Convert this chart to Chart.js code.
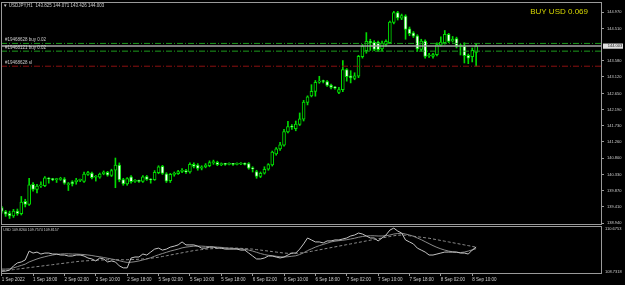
<!DOCTYPE html>
<html>
<head>
<meta charset="utf-8">
<script src="https://cdn.jsdelivr.net/npm/chart.js@4.4.0/dist/chart.umd.min.js"></script>
<style>
html, body { margin: 0; padding: 0; background: #000; }
#wrap { position: relative; width: 625px; height: 285px; overflow: hidden; background: #000; }
canvas { position: absolute; left: 0; }
#main { top: 0; }
#ind { top: 222px; }
</style>
</head>
<body>
<div id="wrap">
  <canvas id="main" width="625" height="230"></canvas>
  <canvas id="ind" width="625" height="63"></canvas>
</div>
<script>
// USDJPY H1, one entry per bar (1 Sep 10:00 .. 8 Sep 11:00)
const symbol = 'USDJPY,H1';
const openP = [
  139.38,139.27,139.22,139.14,139.28,139.21,139.56,139.47,140.05,139.90,
  140.00,140.01,140.21,140.19,140.18,140.19,140.20,140.04,140.12,140.12,
  140.16,140.13,140.33,140.37,140.25,140.25,140.35,140.39,140.30,140.45,
  140.60,140.18,140.06,140.26,140.13,140.15,140.13,140.27,140.18,140.18,
  140.38,140.56,140.35,140.15,140.33,140.35,140.42,140.44,140.40,140.62,
  140.60,140.51,140.55,140.58,140.67,140.68,140.61,140.63,140.62,140.63,
  140.62,140.63,140.63,140.64,140.51,140.41,140.27,140.37,140.48,140.60,
  140.92,141.06,141.17,141.55,141.70,141.64,141.76,141.91,142.39,142.58,
  142.71,142.97,143.00,142.99,142.89,142.82,142.68,142.76,143.33,143.15,
  143.08,143.14,143.70,143.87,144.14,144.11,144.12,143.92,144.05,144.10,
  144.68,144.96,144.80,144.86,144.50,144.38,144.30,143.91,144.15,143.72,
  143.71,143.76,144.03,144.10,144.34,144.15,144.22,144.00,144.00,143.74,
  143.70,143.825
];
const highP = [
  139.42,139.30,139.28,139.33,139.34,139.70,139.62,140.22,140.10,140.05,
  140.12,140.27,140.24,140.22,140.22,140.25,140.24,140.10,140.15,140.22,
  140.20,140.40,140.42,140.40,140.30,140.37,140.43,140.42,140.48,140.80,
  140.66,140.22,140.24,140.30,140.18,140.17,140.30,140.30,140.21,140.44,
  140.58,140.59,140.38,140.36,140.40,140.45,140.50,140.48,140.66,140.66,
  140.64,140.58,140.64,140.72,140.74,140.71,140.66,140.65,140.66,140.65,
  140.66,140.67,140.66,140.67,140.55,140.45,140.40,140.55,140.64,141.00,
  141.10,141.25,141.62,141.85,141.76,141.86,142.09,142.45,142.58,142.90,
  143.02,143.14,143.03,143.02,142.92,142.85,142.82,143.59,143.36,143.30,
  143.24,143.74,144.05,144.39,144.20,144.16,144.15,144.15,144.18,144.72,
  145.00,145.00,144.92,144.90,144.55,144.42,144.33,144.20,144.18,143.80,
  143.80,144.10,144.27,144.45,144.37,144.28,144.26,144.06,144.10,143.78,
  143.95,144.071
];
const lowP = [
  139.22,139.13,139.07,139.10,139.16,139.17,139.40,139.44,139.85,139.80,
  139.96,139.98,140.08,140.15,140.10,140.16,140.05,139.87,140.00,140.05,
  140.12,140.10,140.30,140.20,140.14,140.22,140.32,140.28,140.27,139.95,
  140.12,140.02,140.02,140.08,140.10,140.10,140.10,140.16,140.08,140.16,
  140.35,140.33,140.10,140.10,140.28,140.33,140.38,140.36,140.37,140.52,
  140.45,140.46,140.52,140.55,140.62,140.58,140.58,140.59,140.60,140.59,
  140.60,140.61,140.60,140.48,140.40,140.22,140.24,140.34,140.45,140.57,
  140.88,141.02,141.14,141.52,141.62,141.58,141.73,141.86,142.32,142.55,
  142.57,142.94,142.95,142.85,142.78,142.77,142.64,142.70,143.00,142.95,
  143.04,143.10,143.66,143.80,143.88,143.87,143.85,143.85,144.00,144.07,
  144.64,144.75,144.76,144.20,144.30,144.25,143.85,143.86,143.66,143.68,
  143.66,143.72,144.00,144.06,144.10,144.12,143.95,143.75,143.52,143.50,
  143.55,143.426
];
const closeP = [
  139.27,139.19,139.14,139.28,139.21,139.54,139.47,140.03,139.90,140.00,
  140.03,140.23,140.20,140.18,140.19,140.22,140.08,140.07,140.06,140.17,
  140.17,140.34,140.38,140.24,140.27,140.34,140.40,140.31,140.44,140.60,
  140.17,140.06,140.21,140.12,140.15,140.13,140.26,140.19,140.17,140.39,
  140.55,140.36,140.14,140.33,140.36,140.41,140.45,140.40,140.62,140.56,
  140.50,140.55,140.60,140.67,140.69,140.61,140.63,140.62,140.63,140.62,
  140.63,140.64,140.62,140.51,140.49,140.27,140.36,140.48,140.61,140.97,
  141.06,141.18,141.56,141.70,141.68,141.77,141.92,142.40,142.55,142.71,
  142.97,143.00,142.99,142.88,142.82,142.80,142.76,143.33,143.13,143.10,
  143.15,143.71,144.00,144.14,144.10,143.91,143.90,144.09,144.14,144.69,
  144.96,144.81,144.88,144.48,144.36,144.29,143.92,144.15,143.71,143.75,
  143.76,144.05,144.12,144.34,144.14,144.20,144.00,144.03,143.73,143.66,
  143.88,144.003
];
const priceTicks = [144.970, 144.510, 143.580, 143.120, 142.650, 142.190, 141.730,
                    141.260, 140.800, 140.330, 139.870, 139.410, 138.940];
const priceRange = [138.883, 145.266];
const bid = 144.003;
const orderNames = ['#19468628 buy 0.02', '#19468121 buy 0.02', '#19468628 sl'];
const orderPrices = [144.080, 143.859, 143.428];
const signalText = 'BUY USD 0.069';

// USD index window
const usdName = 'USD';
const usdMain = [
  108.85,108.85,108.89,109.06,109.18,109.22,109.30,109.66,109.58,109.62,
  109.54,109.58,109.58,109.54,109.54,109.50,109.50,109.46,109.46,109.50,
  109.50,109.46,109.38,109.34,109.26,109.38,109.34,109.22,109.26,109.22,
  109.06,108.98,108.98,109.38,109.42,109.42,109.54,109.50,109.62,109.74,
  109.78,109.70,109.74,109.82,109.86,109.91,110.03,109.91,109.91,109.91,
  109.86,109.78,109.78,109.82,109.82,109.78,109.78,109.74,109.74,109.74,
  109.74,109.70,109.70,109.58,109.46,109.34,109.34,109.38,109.46,109.46,
  109.42,109.38,109.42,109.50,109.58,109.58,109.74,109.95,110.19,110.11,
  110.03,110.03,109.99,110.07,110.07,110.11,110.11,110.15,110.19,110.27,
  110.31,110.39,110.35,110.27,110.19,110.19,110.07,110.19,110.31,110.51,
  110.59,110.47,110.39,110.11,110.03,109.95,109.78,109.70,109.62,109.50,
  109.50,109.54,109.58,109.62,109.62,109.62,109.62,109.58,109.58,109.54,
  109.70,109.8260
];
const usdFast = [
  108.93,108.93,108.94,108.98,109.03,109.08,109.13,109.22,109.28,109.34,
  109.39,109.43,109.47,109.50,109.53,109.54,109.55,109.55,109.54,109.54,
  109.53,109.52,109.50,109.48,109.45,109.43,109.40,109.37,109.34,109.31,
  109.27,109.23,109.20,109.21,109.23,109.26,109.30,109.34,109.39,109.45,
  109.51,109.56,109.61,109.66,109.70,109.74,109.79,109.82,109.84,109.86,
  109.86,109.86,109.85,109.84,109.83,109.82,109.81,109.79,109.78,109.77,
  109.76,109.75,109.73,109.70,109.66,109.61,109.56,109.52,109.49,109.47,
  109.45,109.43,109.42,109.43,109.45,109.47,109.52,109.59,109.68,109.75,
  109.82,109.88,109.93,109.98,110.03,110.06,110.08,110.10,110.12,110.15,
  110.18,110.22,110.25,110.27,110.28,110.28,110.27,110.27,110.28,110.31,
  110.35,110.37,110.38,110.35,110.31,110.26,110.19,110.12,110.04,109.96,
  109.88,109.81,109.75,109.70,109.66,109.63,109.61,109.60,109.62,109.66,
  109.71,109.7574
];
const usdSlow = [
  108.85,108.87,108.89,108.91,108.93,108.95,108.97,108.99,109.01,109.03,
  109.05,109.07,109.09,109.11,109.13,109.15,109.17,109.19,109.21,109.23,
  109.25,109.26,109.27,109.28,109.29,109.30,109.30,109.31,109.31,109.31,
  109.31,109.31,109.31,109.32,109.32,109.33,109.34,109.35,109.37,109.39,
  109.41,109.44,109.47,109.50,109.53,109.56,109.59,109.62,109.65,109.68,
  109.70,109.72,109.74,109.75,109.76,109.77,109.78,109.78,109.78,109.78,
  109.78,109.77,109.76,109.75,109.74,109.72,109.70,109.68,109.66,109.64,
  109.62,109.60,109.58,109.57,109.57,109.57,109.58,109.60,109.62,109.65,
  109.68,109.71,109.74,109.77,109.80,109.83,109.86,109.89,109.92,109.95,
  109.98,110.01,110.04,110.07,110.10,110.13,110.16,110.19,110.22,110.25,
  110.28,110.30,110.31,110.30,110.28,110.26,110.24,110.22,110.20,110.18,
  110.15,110.12,110.09,110.06,110.03,110.00,109.97,109.94,109.91,109.88,
  109.85,109.8157
];
const usdRange = [108.7318, 110.6753];

const timeLabels = ['1 Sep 2022', '1 Sep 18:00', '2 Sep 02:00', '2 Sep 10:00', '2 Sep 18:00',
  '5 Sep 02:00', '5 Sep 10:00', '5 Sep 18:00', '6 Sep 02:00', '6 Sep 10:00', '6 Sep 18:00',
  '7 Sep 02:00', '7 Sep 10:00', '7 Sep 18:00', '8 Sep 02:00', '8 Sep 10:00'];
const timeTickBars = [0, 8, 16, 24, 32, 40, 48, 56, 64, 72, 80, 88, 96, 104, 112, 120];

// visible bar window (chart is shifted, empty space on the right)
const xMin = -0.18, xMax = 153.1;

const FONT = 'Liberation Sans';
const GREEN = '#00dc00';
const AXIS = '#9a9a9a';
const TXT = '#cdcdcd';
Chart.defaults.font.family = FONT;

const frame = {
  id: 'frame',
  afterDraw(chart) {
    const a = chart.chartArea, ctx = chart.ctx;
    ctx.save();
    ctx.strokeStyle = AXIS;
    ctx.lineWidth = 1;
    ctx.strokeRect(a.left + 0.5, a.top + 0.5, a.right - a.left - 1, a.bottom - a.top - 1);
    ctx.restore();
  }
};

const mainText = {
  id: 'mainText',
  afterDraw(chart) {
    const ctx = chart.ctx, y = chart.scales.y;
    const n = closeP.length - 1;
    ctx.save();
    ctx.textBaseline = 'middle';
    ctx.fillStyle = TXT;
    ctx.font = '4.5px "' + FONT + '"';
    ctx.fillText('\u25BC', 3, 5.5);
    ctx.fillText(symbol + '  ' + [openP[n], highP[n], lowP[n], closeP[n]].map(v => v.toFixed(3)).join(' '), 8.7, 5.5);

    orderNames.forEach((name, i) => {
      ctx.fillText(name, 5, y.getPixelForValue(orderPrices[i]) - 3.3);
    });

    ctx.font = '8px "' + FONT + '"';
    ctx.fillStyle = '#d6d600';
    ctx.textAlign = 'right';
    ctx.fillText(signalText, 588, 11.5);

    // current price box on the axis
    const by = y.getPixelForValue(bid);
    ctx.fillStyle = '#dedede';
    ctx.fillRect(603, by - 2.6, 20, 5.2);
    ctx.fillStyle = '#222';
    ctx.textAlign = 'left';
    ctx.font = '4px "' + FONT + '"';
    ctx.fillText(bid.toFixed(3), 607.7, by + 0.2);
    ctx.restore();
  }
};

const indText = {
  id: 'indText',
  afterDraw(chart) {
    const ctx = chart.ctx, n = usdMain.length - 1;
    ctx.save();
    ctx.textBaseline = 'middle';
    ctx.fillStyle = TXT;
    ctx.font = '3.6px "' + FONT + '"';
    ctx.fillText(usdName + ' ' + [usdMain[n], usdFast[n], usdSlow[n]].map(v => v.toFixed(4)).join(' '), 3.3, 8);
    ctx.restore();
  }
};

const hLine = (p, color, dash, width) => ({
  type: 'line',
  data: [{x: xMin, y: p}, {x: xMax, y: p}],
  borderColor: color, borderWidth: width, borderDash: dash,
  pointRadius: 0, order: 0
});

new Chart(document.getElementById('main'), {
  type: 'bar',
  data: {
    datasets: [
      ...orderPrices.map((p, i) => hLine(p, i < 2 ? '#1c9a1c' : '#8c1010', [6, 2, 1, 2], 1)),
      hLine(bid, '#a6a6a6', [], 1.5),
      {
        type: 'bar',
        data: closeP.map((c, i) => ({x: i, y: [openP[i], c]})),
        backgroundColor: ctx => (closeP[ctx.dataIndex] < openP[ctx.dataIndex] ? '#ffffff' : '#000000'),
        borderColor: GREEN, borderWidth: 1, borderSkipped: false,
        barThickness: 3, minBarLength: 1, grouped: false, order: 1
      },
      {
        type: 'bar',
        data: closeP.map((c, i) => ({x: i, y: [lowP[i], highP[i]]})),
        backgroundColor: GREEN, borderWidth: 0,
        barThickness: 1, grouped: false, order: 2
      }
    ]
  },
  options: {
    responsive: false, animation: false, devicePixelRatio: 1,
    layout: {padding: {left: 1, top: 2, right: 0, bottom: 5}},
    plugins: {legend: {display: false}, tooltip: {enabled: false}},
    scales: {
      x: {type: 'linear', display: false, min: xMin, max: xMax, offset: false},
      y: {
        position: 'right', min: priceRange[0], max: priceRange[1],
        afterBuildTicks: s => { s.ticks = priceTicks.map(v => ({value: v})); },
        afterFit: s => { s.width = 23; s.paddingTop = 0; s.paddingBottom = 0; },
        ticks: {callback: v => v.toFixed(3), color: TXT, font: {size: 4}, padding: 3, autoSkip: false},
        grid: {drawOnChartArea: false, tickLength: 2, color: AXIS},
        border: {display: false}
      }
    }
  },
  plugins: [frame, mainText]
});

const series = arr => arr.map((v, i) => ({x: i, y: v}));

new Chart(document.getElementById('ind'), {
  type: 'line',
  data: {
    datasets: [
      {data: series(usdMain), borderColor: '#c4c4c4', borderWidth: 1, pointRadius: 0},
      {data: series(usdFast), borderColor: '#8a8a8a', borderWidth: 1, pointRadius: 0},
      {data: series(usdSlow), borderColor: '#8a8a8a', borderWidth: 1, borderDash: [3, 2], pointRadius: 0}
    ]
  },
  options: {
    responsive: false, animation: false, devicePixelRatio: 1,
    layout: {padding: {left: 1, top: 4, right: 0, bottom: 0}},
    plugins: {legend: {display: false}, tooltip: {enabled: false}},
    scales: {
      x: {
        type: 'linear', min: xMin, max: xMax, offset: false,
        afterBuildTicks: s => { s.ticks = timeTickBars.map(v => ({value: v})); },
        afterFit: s => { s.height = 11; s.paddingLeft = 0; s.paddingRight = 0; },
        ticks: {callback: (v, i) => timeLabels[i], align: 'start', color: TXT, font: {size: 4.5},
                padding: 1, maxRotation: 0, autoSkip: false},
        grid: {drawOnChartArea: false, tickLength: 2, color: AXIS},
        border: {display: false}
      },
      y: {
        position: 'right', min: usdRange[0], max: usdRange[1],
        afterBuildTicks: s => {
          const k = (s.max - s.min) / 48;
          s.ticks = [{value: s.max - 3.3 * k}, {value: s.min + 2.3 * k}];
        },
        afterFit: s => { s.width = 23; s.paddingTop = 0; s.paddingBottom = 0; },
        ticks: {callback: (v, i) => (i === 0 ? usdRange[1] : usdRange[0]).toFixed(4),
                color: TXT, font: {size: 4}, padding: 3, autoSkip: false},
        grid: {drawOnChartArea: false, drawTicks: false},
        border: {display: false}
      }
    }
  },
  plugins: [frame, indText]
});
</script>
</body>
</html>
